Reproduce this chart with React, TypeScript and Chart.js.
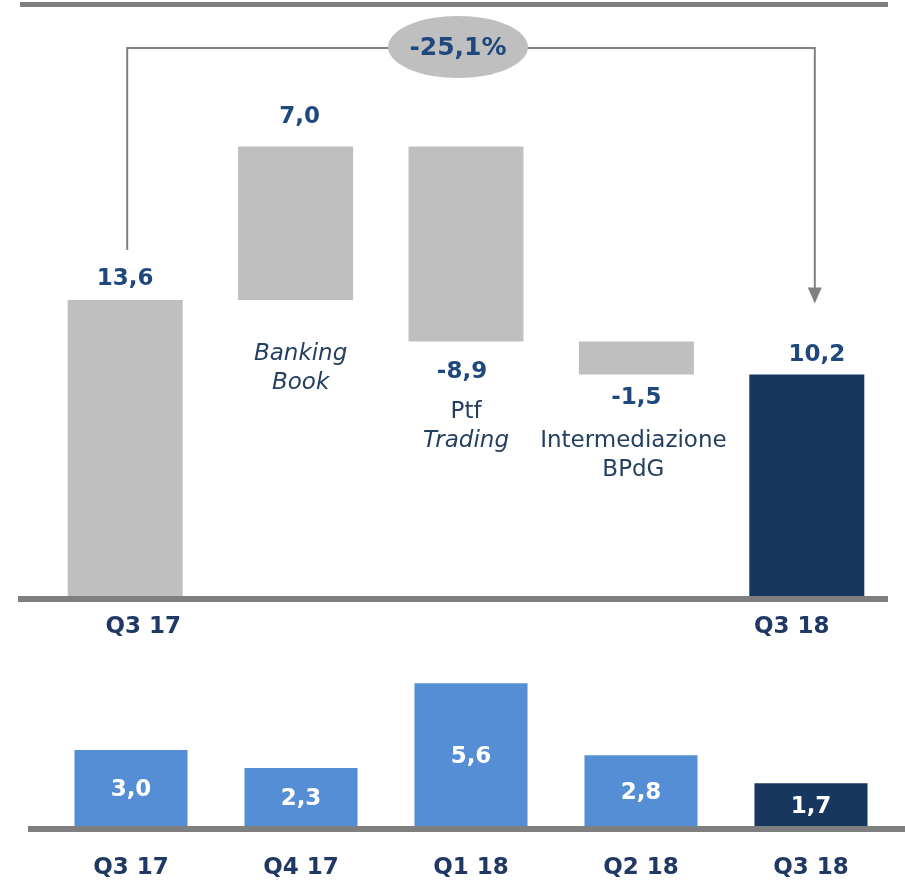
import React, { useEffect, useRef } from "react";
import { Chart, registerables } from "chart.js";

Chart.register(...registerables);

// ---- Data ----
const waterfallCategories = ["Q3 17", "Banking Book", "Ptf Trading", "Intermediazione BPdG", "Q3 18"];
const startValue = 13.6;
const deltaValues = [7.0, -8.9, -1.5];
const endValue = 10.2;
const changeLabel = "-25,1%";
const categoryLabelLines = [
  [],
  [{ t: "Banking", italic: true }, { t: "Book", italic: true }],
  [{ t: "Ptf", italic: false }, { t: "Trading", italic: true }],
  [{ t: "Intermediazione", italic: false }, { t: "BPdG", italic: false }],
  [],
];

const quarterCategories = ["Q3 17", "Q4 17", "Q1 18", "Q2 18", "Q3 18"];
const quarterValues = [3.0, 2.3, 5.6, 2.8, 1.7];

// ---- Styles ----
const GREY_BAR = "#BFBFBF";
const DARK_BAR = "#17375E";
const LIGHT_BAR = "#558ED5";
const AXIS = "#7F7F7F";
const VALUE_COLOR = "#1F497D";
const LABEL_COLOR = "#243F60";
const XLABEL_COLOR = "#1F3864";
const FONT = "'DejaVu Sans', Verdana, sans-serif";

const fmt = (v: number) => v.toFixed(1).replace(".", ",");

const waterfallRanges: [number, number][] = (() => {
  const r: [number, number][] = [[0, startValue]];
  let run = startValue;
  for (const d of deltaValues) {
    const next = Math.round((run + d) * 10) / 10;
    r.push([run, next]);
    run = next;
  }
  r.push([0, endValue]);
  return r;
})();
const waterfallValues = [startValue, ...deltaValues, endValue];

const topPlugin = {
  id: "topDecor",
  afterDatasetsDraw(chart: any) {
    const ctx = chart.ctx as CanvasRenderingContext2D;
    const bars = chart.getDatasetMeta(0).data as any[];
    const yBase = chart.scales.y.getPixelForValue(0);
    ctx.save();
    // top rule & baseline
    ctx.fillStyle = AXIS;
    ctx.fillRect(20, 2, 868, 5);
    ctx.fillRect(18, yBase - 2, 870, 6);

    const b0 = bars[0];
    const b4 = bars[4];
    const top0 = Math.min(b0.y, b0.base);
    const top4 = Math.min(b4.y, b4.base);
    const lx = b0.x + 2;
    const rx = b4.x + 8;
    // connector arrow
    ctx.strokeStyle = "#808080";
    ctx.lineWidth = 2;
    ctx.beginPath();
    ctx.moveTo(lx, top0 - 50);
    ctx.lineTo(lx, 48);
    ctx.lineTo(rx, 48);
    ctx.lineTo(rx, top4 - 84);
    ctx.stroke();
    ctx.fillStyle = "#808080";
    ctx.beginPath();
    ctx.moveTo(rx - 7, top4 - 87);
    ctx.lineTo(rx + 7, top4 - 87);
    ctx.lineTo(rx, top4 - 71);
    ctx.closePath();
    ctx.fill();

    // ellipse badge
    ctx.fillStyle = GREY_BAR;
    ctx.beginPath();
    ctx.ellipse(458, 47, 70, 31, 0, 0, Math.PI * 2);
    ctx.fill();
    ctx.fillStyle = VALUE_COLOR;
    ctx.font = `bold 25px ${FONT}`;
    ctx.textAlign = "center";
    ctx.textBaseline = "middle";
    ctx.fillText(changeLabel, 458, 48);

    // value labels
    const offsets = [
      { dx: 0, above: true, d: 21 },
      { dx: 4, above: true, d: 29 },
      { dx: -4, above: false, d: 30 },
      { dx: 0, above: false, d: 24 },
      { dx: 10, above: true, d: 19 },
    ];
    const labelStarts = [0, 54, 70, 67, 0];
    ctx.font = `bold 23px ${FONT}`;
    bars.forEach((b: any, i: number) => {
      const top = Math.min(b.y, b.base);
      const bottom = Math.max(b.y, b.base);
      const o = offsets[i];
      const y = o.above ? top - o.d : bottom + o.d;
      ctx.fillStyle = VALUE_COLOR;
      ctx.font = `bold 23px ${FONT}`;
      ctx.fillText(fmt(waterfallValues[i]), b.x + o.dx, y);
      const lines = categoryLabelLines[i];
      lines.forEach((ln: any, j: number) => {
        ctx.font = `${ln.italic ? "italic " : ""}23px ${FONT}`;
        ctx.fillStyle = LABEL_COLOR;
        ctx.fillText(ln.t, b.x + (i === 1 ? 5 : i === 3 ? -3 : 0), bottom + labelStarts[i] + j * 29);
      });
    });

    // x labels
    ctx.font = `bold 23px ${FONT}`;
    ctx.fillStyle = XLABEL_COLOR;
    ctx.fillText(waterfallCategories[0], b0.x + 18, yBase + 29);
    ctx.fillText(waterfallCategories[4], b4.x - 15, yBase + 29);
    ctx.restore();
  },
};

const bottomPlugin = {
  id: "bottomDecor",
  afterDatasetsDraw(chart: any) {
    const ctx = chart.ctx as CanvasRenderingContext2D;
    const bars = chart.getDatasetMeta(0).data as any[];
    const yBase = chart.scales.y.getPixelForValue(0);
    ctx.save();
    ctx.fillStyle = AXIS;
    ctx.fillRect(28, yBase - 1, 877, 6);
    ctx.textAlign = "center";
    ctx.textBaseline = "middle";
    ctx.font = `bold 23px ${FONT}`;
    bars.forEach((b: any, i: number) => {
      ctx.fillStyle = "#FFFFFF";
      ctx.fillText(fmt(quarterValues[i]), b.x, (b.y + b.base) / 2 + 2);
      ctx.fillStyle = XLABEL_COLOR;
      ctx.fillText(quarterCategories[i], b.x, yBase + 41);
    });
    ctx.restore();
  },
};

export default function App() {
  const topRef = useRef<HTMLCanvasElement>(null);
  const botRef = useRef<HTMLCanvasElement>(null);

  useEffect(() => {
    const top = new Chart(topRef.current!, {
      type: "bar",
      data: {
        labels: waterfallCategories,
        datasets: [
          {
            data: waterfallRanges as any,
            backgroundColor: waterfallCategories.map((_, i) => (i === 4 ? DARK_BAR : GREY_BAR)),
            borderWidth: 0,
            barPercentage: 0.675,
            categoryPercentage: 1,
          },
        ],
      },
      options: {
        animation: false,
        responsive: false,
        maintainAspectRatio: false,
        layout: { padding: { left: 40, right: 13, top: 50, bottom: 42 } },
        plugins: { legend: { display: false }, tooltip: { enabled: false } },
        scales: {
          x: { display: false },
          y: { display: false, min: 0, max: 25 },
        },
      },
      plugins: [topPlugin],
    });

    const bottom = new Chart(botRef.current!, {
      type: "bar",
      data: {
        labels: quarterCategories,
        datasets: [
          {
            data: quarterValues,
            backgroundColor: quarterCategories.map((_, i) => (i === quarterCategories.length - 1 ? DARK_BAR : LIGHT_BAR)),
            borderWidth: 0,
            barPercentage: 0.665,
            categoryPercentage: 1,
          },
        ],
      },
      options: {
        animation: false,
        responsive: false,
        maintainAspectRatio: false,
        layout: { padding: { left: 46, right: 9, top: 33, bottom: 58 } },
        plugins: { legend: { display: false }, tooltip: { enabled: false } },
        scales: {
          x: { display: false },
          y: { display: false, min: 0, max: 6 },
        },
      },
      plugins: [bottomPlugin],
    });

    return () => {
      top.destroy();
      bottom.destroy();
    };
  }, []);

  return (
    <div style={{ position: "absolute", left: 0, top: 0, width: 905, height: 885, background: "#FFFFFF", overflow: "hidden" }}>
      <canvas ref={topRef} width={905} height={640} style={{ position: "absolute", left: 0, top: 0, width: 905, height: 640 }} />
      <canvas ref={botRef} width={905} height={245} style={{ position: "absolute", left: 0, top: 640, width: 905, height: 245 }} />
    </div>
  );
}
